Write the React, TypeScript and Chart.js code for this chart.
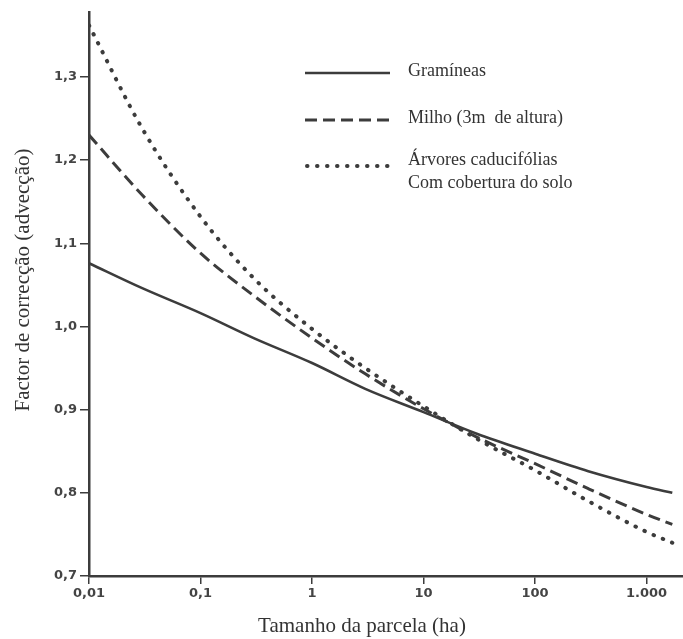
import React, { useEffect, useRef } from "react";
import { Chart, registerables } from "chart.js";

Chart.register(...registerables);

// ---- Data ----
const areas = [0.01, 0.03, 0.1, 0.3, 1, 3, 10, 30, 100, 300, 1000, 1700];
const gramineas = [1.076, 1.046, 1.016, 0.986, 0.956, 0.925, 0.897, 0.871, 0.847, 0.826, 0.807, 0.8];
const milho = [1.23, 1.158, 1.088, 1.037, 0.986, 0.943, 0.901, 0.867, 0.835, 0.805, 0.774, 0.762];
const arvores = [1.362, 1.238, 1.132, 1.058, 0.997, 0.95, 0.904, 0.865, 0.827, 0.79, 0.753, 0.74];

const seriesNames = ["Gramíneas", "Milho (3m  de altura)", "Árvores caducifólias"];
const legendExtraLine = "Com cobertura do solo";

const xTickValues = [0.01, 0.1, 1, 10, 100, 1000];
const xTickLabels = ["0,01", "0,1", "1", "10", "100", "1.000"];
const yTickValues = [0.7, 0.8, 0.9, 1.0, 1.1, 1.2, 1.3];
const yTickLabels = ["0,7", "0,8", "0,9", "1,0", "1,1", "1,2", "1,3"];

const xTitle = "Tamanho da parcela (ha)";
const yTitle = "Factor de correcção (advecção)";

const INK = "#3c3c3c";

const toPoints = (ys: number[]) => areas.map((x, i) => ({ x, y: ys[i] }));

const dashStyles: number[][] = [[], [12, 6], [0.5, 9.5]];
const widths = [2.6, 3, 4];

const overlayPlugin = {
  id: "overlay",
  afterDraw(chart: any) {
    const ctx: CanvasRenderingContext2D = chart.ctx;
    ctx.save();
    ctx.fillStyle = "#333";
    ctx.font = '21px "Liberation Serif"';
    ctx.textAlign = "center";
    ctx.textBaseline = "middle";
    // x title
    ctx.fillText(xTitle, 362, 626);
    // y title
    ctx.save();
    ctx.translate(23, 280);
    ctx.rotate(-Math.PI / 2);
    ctx.fillText(yTitle, 0, 0);
    ctx.restore();

    // legend
    const rows = [73, 120, 166];
    ctx.font = '18px "Liberation Serif"';
    ctx.textAlign = "left";
    rows.forEach((y, i) => {
      ctx.save();
      ctx.strokeStyle = INK;
      ctx.lineWidth = widths[i];
      ctx.lineCap = i === 2 ? "round" : "butt";
      ctx.setLineDash(dashStyles[i]);
      ctx.beginPath();
      ctx.moveTo(i === 2 ? 307 : 305, y);
      ctx.lineTo(390, y);
      ctx.stroke();
      ctx.restore();
    });
    ctx.fillStyle = "#333";
    ctx.fillText(seriesNames[0], 408, 71);
    ctx.fillText(seriesNames[1], 408, 118);
    ctx.fillText(seriesNames[2], 408, 160);
    ctx.fillText(legendExtraLine, 408, 183);
    ctx.restore();
  },
};

export default function App() {
  const ref = useRef<HTMLCanvasElement | null>(null);

  useEffect(() => {
    if (!ref.current) return;
    const all = [gramineas, milho, arvores];
    const chart = new Chart(ref.current, {
      type: "line",
      data: {
        datasets: all.map((ys, i) => ({
          label: seriesNames[i],
          data: toPoints(ys),
          borderColor: INK,
          borderWidth: widths[i],
          borderDash: dashStyles[i],
          borderCapStyle: i === 2 ? "round" : "butt",
          pointRadius: 0,
          fill: false,
          cubicInterpolationMode: "monotone",
        })) as any,
      },
      options: {
        animation: false,
        responsive: false,
        devicePixelRatio: 1,
        layout: { padding: { top: 12, right: 0, left: 0, bottom: 0 } },
        plugins: { legend: { display: false }, tooltip: { enabled: false } },
        scales: {
          x: {
            type: "logarithmic",
            min: 0.01,
            max: 2120,
            afterFit: (s: any) => {
              s.height = 63;
            },
            afterBuildTicks: (s: any) => {
              s.ticks = xTickValues.map((v) => ({ value: v }));
            },
            ticks: {
              autoSkip: false,
              maxRotation: 0,
              padding: 2,
              color: "#444",
              font: { family: "DejaVu Sans", size: 13, weight: "bold" },
              callback: (_v: any, i: number) => xTickLabels[i],
            },
            grid: {
              drawOnChartArea: false,
              drawTicks: true,
              tickLength: 8,
              color: INK,
              lineWidth: 1.5,
            },
            border: { color: INK, width: 2.5 },
          },
          y: {
            type: "linear",
            min: 0.7,
            max: 1.378,
            afterFit: (s: any) => {
              s.width = 89;
            },
            afterBuildTicks: (s: any) => {
              s.ticks = yTickValues.map((v) => ({ value: v }));
            },
            ticks: {
              autoSkip: false,
              padding: 3,
              color: "#444",
              font: { family: "DejaVu Sans", size: 13, weight: "bold" },
              callback: (_v: any, i: number) => yTickLabels[i],
            },
            grid: {
              drawOnChartArea: false,
              drawTicks: true,
              tickLength: 9,
              color: INK,
              lineWidth: 1.5,
            },
            border: { color: INK, width: 2.5 },
          },
        },
      } as any,
      plugins: [overlayPlugin],
    });
    return () => chart.destroy();
  }, []);

  return (
    <div style={{ position: "absolute", left: 0, top: 0, width: 683, height: 639, background: "#fff" }}>
      <canvas ref={ref} width={683} height={639} style={{ display: "block" }} />
    </div>
  );
}
